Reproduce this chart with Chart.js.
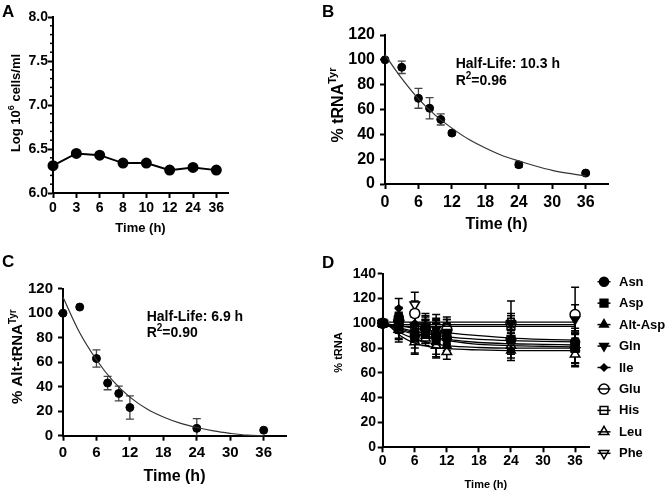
<!DOCTYPE html>
<html>
<head>
<meta charset="utf-8">
<script src="https://cdn.jsdelivr.net/npm/chart.js@4/dist/chart.umd.min.js"></script>
<style>
  html, body { margin: 0; padding: 0; background: #fff; }
  #wrap { position: relative; width: 668px; height: 493px; overflow: hidden; }
  canvas { position: absolute; left: 0; top: 0; }
</style>
</head>
<body>
<div id="wrap">
  <canvas id="chartA" width="668" height="493"></canvas>
  <canvas id="chartB" width="668" height="493"></canvas>
  <canvas id="chartC" width="668" height="493"></canvas>
  <canvas id="chartD" width="668" height="493"></canvas>
</div>
<script>
// ---- data ----
// A: cell density
const timeLabelsA = ["0", "3", "6", "8", "10", "12", "24", "36"];
const cellsLog = [6.31, 6.45, 6.43, 6.34, 6.34, 6.26, 6.29, 6.26];

// B: tRNA-Tyr decay
const hours = [0, 3, 6, 8, 10, 12, 24, 36];
const tyrPct = [100, 94, 69, 61, 52, 41, 15.5, 8.8];
const tyrErr = [0, 5, 8, 8.5, 4.5, 1.5, 2, 1];
const fitHours = [0, 3, 6, 9, 12, 15, 18, 21, 24, 27, 30, 33, 36];
const tyrFit = [104, 85, 68.5, 55.5, 45, 36, 29, 23, 18.5, 14.5, 11, 8.5, 6.5];

// C: Alt-tRNA-Tyr decay
const altTyrPct = [100, 105, 63, 43, 34.5, 23, 6, 4.5];
const altTyrErr = [0, 0, 7, 5.5, 6, 9.5, 8, 0];
const altTyrFit = [113, 84, 62, 44.5, 31.5, 22, 15.3, 10.3, 6.7, 3.9, 1.9, 0.4, 0];

// D: other tRNAs
const seriesD = ["Asn", "Asp", "Alt-Asp", "Gln", "Ile", "Glu", "His", "Leu", "Phe"];
const asn    = [100, 105, 90, 95, 90, 88, 87, 85];
const asp    = [100, 97, 88, 92, 88, 90, 87, 80];
const altAsp = [100, 100, 95, 90, 85, 82, 78, 80];
const gln    = [100, 100, 98, 97, 95, 93, 100, 103];
const ile    = [100, 112, 100, 98, 92, 90, 100, 82];
const glu    = [100, 102, 108, 96, 92, 95, 100, 107];
const his    = [100, 98, 97, 95, 90, 95, 98, 80];
const leu    = [100, 95, 85, 88, 82, 77, 82, 75];
const phe    = [100, 100, 115, 98, 90, 92, 85, 78];
const asnErr    = [2, 8, 10, 8, 10, 10, 8, 8];
const aspErr    = [2, 12, 12, 8, 15, 10, 8, 14];
const altAspErr = [2, 6, 10, 6, 10, 6, 8, 12];
const glnErr    = [2, 8, 10, 8, 12, 10, 6, 12];
const ileErr    = [2, 8, 8, 10, 12, 10, 18, 14];
const gluErr    = [2, 6, 10, 6, 10, 10, 8, 22];
const hisErr    = [2, 10, 8, 8, 10, 8, 6, 12];
const leuErr    = [2, 8, 10, 6, 10, 6, 10, 10];
const pheErr    = [2, 6, 10, 8, 10, 8, 10, 10];
const fitHoursD = [0, 3, 6, 9, 12, 18, 24, 30, 36];
const asnFit    = [100, 96.5, 93.5, 91, 89, 87, 86, 85.5, 85];
const aspFit    = [101, 96, 92, 89, 87, 84.5, 83.5, 83, 82.5];
const altAspFit = [101, 93, 87.5, 84, 82, 80.5, 80, 80, 80];
const glnFit    = [99, 99, 99, 99, 99, 99, 99, 99, 99];
const ileFit    = [100, 98, 96, 94, 92.5, 90, 88, 87, 86.5];
const gluFit    = [101, 101, 101, 101, 101, 101, 101, 101, 101];
const hisFit    = [97.5, 97.5, 97.5, 97.5, 97.5, 97.5, 97.5, 97.5, 97.5];
const leuFit    = [104, 91, 84, 81, 79.5, 78.5, 78, 78, 78];
const pheFit    = [100, 95, 91, 88, 86, 83, 82, 81.5, 81];

// ---- styling ----
const FONT = '"Liberation Sans", Arial, Helvetica, sans-serif';
Chart.defaults.font.family = FONT;
Chart.defaults.font.weight = "bold";
Chart.defaults.color = "#000";
Chart.defaults.animation = false;
Chart.defaults.responsive = false;
Chart.defaults.plugins.legend.display = false;
Chart.defaults.plugins.tooltip.enabled = false;

const dStyles = [
  { style: "circle", rot: 0, r: 4.5, fill: "#000" },
  { style: "rect", rot: 0, r: 5.5, fill: "#000" },
  { style: "triangle", rot: 0, r: 5, fill: "#000" },
  { style: "triangle", rot: 180, r: 5, fill: "#000" },
  { style: "rectRot", rot: 0, r: 3.5, fill: "#000" },
  { style: "circle", rot: 0, r: 5, fill: "#fff" },
  { style: "rect", rot: 0, r: 5.5, fill: "#fff" },
  { style: "triangle", rot: 0, r: 5.5, fill: "#fff" },
  { style: "triangle", rot: 180, r: 5.5, fill: "#fff" },
];

const pts = (xs, ys) => ys.map((v, i) => ({ x: xs[i], y: v }));

function scale(o) {
  return {
    type: "linear",
    min: o.min, max: o.max,
    border: { display: true, color: "#000", width: 2 },
    grid: { drawOnChartArea: false, drawTicks: true, tickLength: 5, tickWidth: 2, tickColor: "#000" },
    ticks: {
      stepSize: o.step, includeBounds: false, autoSkip: false, maxRotation: 0,
      padding: o.pad, color: "#000", font: { size: o.font, weight: "bold" },
      callback: o.cb || ((v) => v),
    },
    title: o.title ? { display: true, text: o.title, color: "#000",
      font: { size: o.titleSize, weight: "bold" }, padding: { top: 0, bottom: o.titlePad } } : { display: false },
    afterFit: (s) => { if (o.w) s.width = o.w; if (o.h) s.height = o.h; },
  };
}

function drawParts(ctx, parts, x, y, size) {
  const main = `bold ${size}px ${FONT}`;
  const sup = `bold ${Math.round(size * 0.68)}px ${FONT}`;
  parts.forEach((p) => {
    ctx.font = p.sup ? sup : main;
    ctx.fillText(p.t, x, p.sup ? y - size * 0.42 : y);
    x += ctx.measureText(p.t).width;
  });
}
function partsWidth(ctx, parts, size) {
  let w = 0;
  parts.forEach((p) => {
    ctx.font = p.sup ? `bold ${Math.round(size * 0.68)}px ${FONT}` : `bold ${size}px ${FONT}`;
    w += ctx.measureText(p.t).width;
  });
  return w;
}

// rotated y title with superscript, panel letter and annotations
function textPlugin(id, cfg) {
  return {
    id,
    afterDraw(chart) {
      const ctx = chart.ctx;
      ctx.save();
      ctx.fillStyle = "#000";
      ctx.textBaseline = "alphabetic";
      ctx.textAlign = "left";
      // panel letter
      ctx.font = `bold 17px ${FONT}`;
      ctx.fillText(cfg.letter[0], cfg.letter[1], cfg.letter[2]);
      // y title
      const t = cfg.yTitle;
      ctx.save();
      ctx.translate(t.x, t.y);
      ctx.rotate(-Math.PI / 2);
      const w = partsWidth(ctx, t.parts, t.size);
      drawParts(ctx, t.parts, -w / 2, 0, t.size);
      ctx.restore();
      // notes
      (cfg.notes || []).forEach((n) => drawParts(ctx, n.parts, n.x, n.y, n.size));
      ctx.restore();
    },
  };
}

const errorBars = {
  id: "errorBars",
  beforeDatasetsDraw(chart) {
    const { ctx, scales: { x, y } } = chart;
    chart.data.datasets.forEach((ds) => {
      if (!ds.errors) return;
      ctx.save();
      ctx.strokeStyle = ds.errorColor || "#000";
      ctx.lineWidth = ds.errorWidth || 1.3;
      ds.data.forEach((p, i) => {
        const e = ds.errors[i];
        if (!e) return;
        const px = x.getPixelForValue(p.x);
        const top = y.getPixelForValue(p.y + e);
        const bot = y.getPixelForValue(Math.max(p.y - e, y.min));
        ctx.beginPath();
        ctx.moveTo(px, top); ctx.lineTo(px, bot);
        ctx.moveTo(px - 4, top); ctx.lineTo(px + 4, top);
        if (p.y - e >= y.min) { ctx.moveTo(px - 4, bot); ctx.lineTo(px + 4, bot); }
        ctx.stroke();
      });
      ctx.restore();
    });
  },
};

const minorTicksA = {
  id: "minorTicksA",
  afterDraw(chart) {
    const y = chart.scales.y, ctx = chart.ctx, x0 = chart.chartArea.left;
    ctx.save();
    ctx.strokeStyle = "#000";
    ctx.lineWidth = 1.5;
    for (let k = 1; k < 20; k++) {
      if (k % 5 === 0) continue;
      const py = y.getPixelForValue(y.min + k * 0.1);
      ctx.beginPath(); ctx.moveTo(x0 - 3, py); ctx.lineTo(x0, py); ctx.stroke();
    }
    ctx.restore();
  },
};

const legendD = {
  id: "legendD",
  afterDraw(chart) {
    const ctx = chart.ctx;
    const mx = 604, tx = 619, y0 = 281.7, dy = 21.45;
    seriesD.forEach((name, i) => {
      const st = dStyles[i];
      const y = y0 + i * dy;
      ctx.save();
      ctx.fillStyle = st.fill;
      ctx.strokeStyle = "#000";
      ctx.lineWidth = 1.5;
      if (Chart.helpers && Chart.helpers.drawPoint) {
        Chart.helpers.drawPoint(ctx, { pointStyle: st.style, rotation: st.rot, radius: st.r, borderWidth: 1.5 }, mx, y);
      } else {
        ctx.beginPath(); ctx.arc(mx, y, st.r, 0, Math.PI * 2); ctx.fill(); ctx.stroke();
      }
      ctx.beginPath(); ctx.moveTo(mx - 6.5, y); ctx.lineTo(mx + 6.5, y); ctx.stroke();
      ctx.fillStyle = "#000";
      ctx.font = `bold 13px ${FONT}`;
      ctx.textBaseline = "middle";
      ctx.fillText(name, tx, y + 0.5);
      ctx.restore();
    });
  },
};

// ---- A ----
new Chart(document.getElementById("chartA"), {
  type: "scatter",
  data: {
    datasets: [{
      data: pts(timeLabelsA.map((_, i) => i), cellsLog),
      showLine: true, borderColor: "#000", borderWidth: 2,
      pointRadius: 4.5, pointBackgroundColor: "#000", pointBorderColor: "#000", clip: false,
    }],
  },
  options: {
    layout: { padding: { left: 13, right: 440, top: 17, bottom: 255 } },
    scales: {
      x: scale({ min: 0, max: 7.5, step: 1, pad: 1.6, font: 14, cb: (v) => timeLabelsA[v] ?? "",
        title: "Time (h)", titleSize: 13, titlePad: 2.2, h: 45 }),
      y: scale({ min: 6, max: 8, step: 0.5, pad: 0, font: 14, cb: (v) => v.toFixed(1), w: 40 }),
    },
  },
  plugins: [minorTicksA, textPlugin("textA", {
    letter: ["A", 2, 17],
    yTitle: { parts: [{ t: "Log 10" }, { t: "6", sup: true }, { t: " cells/ml" }], x: 19.5, y: 103, size: 13 },
  })],
});

// ---- B ----
new Chart(document.getElementById("chartB"), {
  type: "scatter",
  data: {
    datasets: [
      { data: pts(fitHours, tyrFit), showLine: true, borderColor: "#333", borderWidth: 1.2,
        pointRadius: 0, cubicInterpolationMode: "monotone", clip: false },
      { data: pts(hours, tyrPct), errors: tyrErr, errorColor: "#444", pointRadius: 4,
        pointBackgroundColor: "#000", pointBorderColor: "#000", clip: false },
    ],
  },
  options: {
    layout: { padding: { left: 345, right: 60, top: 35, bottom: 255 } },
    scales: {
      x: scale({ min: 0, max: 40, step: 6, pad: 4.4, font: 16, title: "Time (h)", titleSize: 16, titlePad: 3.4, h: 54 }),
      y: scale({ min: 0, max: 120, step: 20, pad: 5, font: 16, w: 40 }),
    },
  },
  plugins: [errorBars, textPlugin("textB", {
    letter: ["B", 322, 17],
    yTitle: { parts: [{ t: "% tRNA" }, { t: "Tyr", sup: true }], x: 342.5, y: 105, size: 16 },
    notes: [
      { parts: [{ t: "Half-Life: 10.3 h" }], x: 455.7, y: 67.7, size: 14 },
      { parts: [{ t: "R" }, { t: "2", sup: true }, { t: "=0.96" }], x: 455.7, y: 85, size: 14 },
    ],
  })],
});

// ---- C ----
new Chart(document.getElementById("chartC"), {
  type: "scatter",
  data: {
    datasets: [
      { data: pts(fitHours, altTyrFit), showLine: true, borderColor: "#333", borderWidth: 1.2,
        pointRadius: 0, cubicInterpolationMode: "monotone", clip: false },
      { data: pts(hours, altTyrPct), errors: altTyrErr, errorColor: "#444", pointRadius: 4,
        pointBackgroundColor: "#000", pointBorderColor: "#000", clip: false },
    ],
  },
  options: {
    layout: { padding: { left: 23, right: 382, top: 288.7, bottom: 2.3 } },
    scales: {
      x: scale({ min: 0, max: 40, step: 6, pad: 3.3, font: 15, title: "Time (h)", titleSize: 16, titlePad: 4.4, h: 55 }),
      y: scale({ min: 0, max: 120, step: 20, pad: 5, font: 15, w: 40 }),
    },
  },
  plugins: [errorBars, textPlugin("textC", {
    letter: ["C", 2, 267],
    yTitle: { parts: [{ t: "% Alt-tRNA" }, { t: "Tyr", sup: true }], x: 22, y: 356.7, size: 15 },
    notes: [
      { parts: [{ t: "Half-Life: 6.9 h" }], x: 146.7, y: 321, size: 14 },
      { parts: [{ t: "R" }, { t: "2", sup: true }, { t: "=0.90" }], x: 146.7, y: 336.5, size: 14 },
    ],
  })],
});

// ---- D ----
const valuesD = [asn, asp, altAsp, gln, ile, glu, his, leu, phe];
const errorsD = [asnErr, aspErr, altAspErr, glnErr, ileErr, gluErr, hisErr, leuErr, pheErr];
const fitsD = [asnFit, aspFit, altAspFit, glnFit, ileFit, gluFit, hisFit, leuFit, pheFit];
const datasetsD = [];
fitsD.forEach((f) => datasetsD.push({
  data: pts(fitHoursD, f), showLine: true, borderColor: "#000", borderWidth: 1.3,
  pointRadius: 0, cubicInterpolationMode: "monotone", clip: false,
}));
valuesD.forEach((v, i) => {
  const st = dStyles[i];
  datasetsD.push({
    label: seriesD[i], data: pts(hours, v), errors: errorsD[i], errorColor: "#000", errorWidth: 1.5,
    pointStyle: st.style, rotation: st.rot, pointRadius: st.r,
    pointBackgroundColor: st.fill, pointBorderColor: "#000", pointBorderWidth: 1.5, clip: false,
  });
});
new Chart(document.getElementById("chartD"), {
  type: "scatter",
  data: { datasets: datasetsD },
  options: {
    layout: { padding: { left: 342.7, right: 79, top: 273.7, bottom: 1.7 } },
    scales: {
      x: scale({ min: 0, max: 38.6, step: 6, pad: 0, font: 14, title: "Time (h)", titleSize: 11, titlePad: 0, h: 44 }),
      y: scale({ min: 0, max: 140, step: 20, pad: 1.7, font: 14, w: 40 }),
    },
  },
  plugins: [errorBars, legendD, textPlugin("textD", {
    letter: ["D", 322, 268],
    yTitle: { parts: [{ t: "% tRNA" }], x: 342, y: 352.5, size: 11 },
  })],
});
</script>
</body>
</html>
